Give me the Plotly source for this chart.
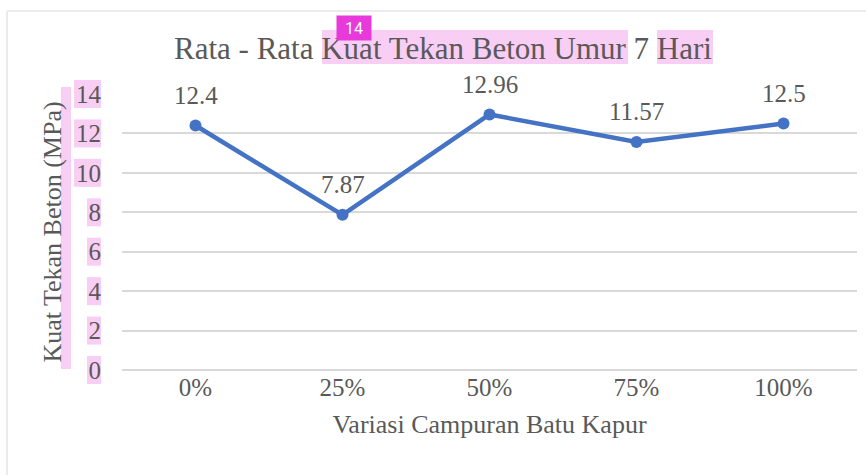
import plotly.graph_objects as go

# Mix ratios of limestone (Batu Kapur) and average 7-day compressive strength
categories = ["0%", "25%", "50%", "75%", "100%"]
strength = [12.4, 7.87, 12.96, 11.57, 12.5]
y_ticks = [0, 2, 4, 6, 8, 10, 12, 14]

title_text = "Rata - Rata Kuat Tekan Beton Umur 7 Hari"
x_title = "Variasi Campuran Batu Kapur"
y_title = "Kuat Tekan Beton (MPa)"

FONT = "Liberation Serif"
TEXT = "#595959"
LINE = "#4472C4"
GRID = "#D9D9D9"
HIGHLIGHT = "rgba(246, 180, 240, 0.65)"

W, H = 866, 475
L, R, T, B = 122, 9, 94, 105
PW, PH = W - L - R, H - T - B


def px_x(px):
    return (px - L) / PW


def px_y(py):
    return (H - B - py) / PH


fig = go.Figure()

fig.add_trace(go.Scatter(
    x=categories,
    y=strength,
    mode="lines+markers",
    line=dict(color=LINE, width=4.5),
    marker=dict(color=LINE, size=12),
    hoverinfo="x+y",
    showlegend=False,
    cliponaxis=False,
))

# value labels above each point
annotations = [
    dict(x=c, y=v, text=f"{v:g}", showarrow=False, yshift=30,
         font=dict(family=FONT, size=25, color=TEXT))
    for c, v in zip(categories, strength)
]

# small badge above the title
annotations.append(dict(
    xref="paper", yref="paper", x=px_x(336), y=px_y(15),
    text="14", showarrow=False, bgcolor="#E83ADA",
    font=dict(family="Roboto", size=16, color="white"),
    borderpad=3, width=28, height=18,
))

shapes = []
# outer chart frame (top and left edges visible)
shapes.append(dict(type="line", xref="paper", yref="paper",
                   x0=px_x(7), x1=px_x(870), y0=px_y(11), y1=px_y(11),
                   line=dict(color="#EBEBEB", width=2), layer="below"))
shapes.append(dict(type="line", xref="paper", yref="paper",
                   x0=px_x(7), x1=px_x(7), y0=px_y(11), y1=px_y(480),
                   line=dict(color="#EBEBEB", width=2), layer="below"))

# text highlight boxes
boxes = [
    (322, 628, 30, 64),   # "Kuat Tekan Beton Umur"
    (657, 713, 30, 64),   # "Hari"
    (61, 71, 87, 369),    # y-axis title
]
for v in y_ticks:
    cy = H - B - v * PH / 14
    x0 = 74 if v >= 10 else 87
    boxes.append((x0, 101, cy - 14, cy + 14))
for x0, x1, y0, y1 in boxes:
    shapes.append(dict(type="rect", xref="paper", yref="paper",
                       x0=px_x(x0), x1=px_x(x1), y0=px_y(y1), y1=px_y(y0),
                       fillcolor=HIGHLIGHT, line=dict(width=0), layer="below"))

fig.update_layout(
    width=W, height=H,
    margin=dict(l=L, r=R, t=T, b=B, pad=0),
    paper_bgcolor="white",
    plot_bgcolor="white",
    font=dict(family=FONT, color=TEXT, size=25),
    title=dict(text=title_text, xref="container", x=443 / W, xanchor="center",
               yref="container", y=1 - 48 / H, yanchor="middle",
               font=dict(family=FONT, size=31, color=TEXT)),
    xaxis=dict(
        type="category",
        range=[-0.5, 4.5],
        showgrid=False,
        showline=False,
        zeroline=False,
        ticks="",
        tickfont=dict(family=FONT, size=25, color=TEXT),
        title=dict(text=x_title, standoff=14,
                   font=dict(family=FONT, size=26, color=TEXT)),
    ),
    yaxis=dict(
        range=[0, 14],
        tickvals=y_ticks,
        showgrid=True,
        gridcolor=GRID,
        gridwidth=1.5,
        zeroline=True,
        zerolinecolor=GRID,
        zerolinewidth=1.5,
        showline=False,
        ticks="",
        ticklabelstandoff=20,
        tickfont=dict(family=FONT, size=25, color=TEXT),
        title=dict(text=y_title, standoff=6,
                   font=dict(family=FONT, size=26, color=TEXT)),
    ),
    annotations=annotations,
    shapes=shapes,
)

fig.write_html("out.html")
